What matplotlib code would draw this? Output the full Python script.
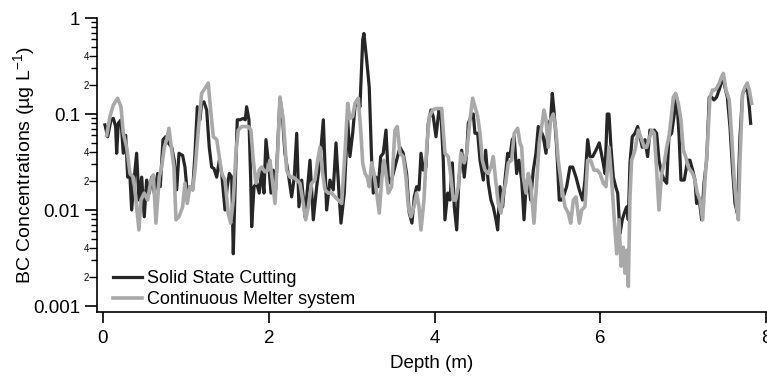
import matplotlib
matplotlib.use("Agg")
import matplotlib.pyplot as plt
from matplotlib.ticker import FixedLocator

plt.rcParams['font.family'] = ['Liberation Sans', 'DejaVu Sans']
plt.rcParams['mathtext.fontset'] = 'custom'
plt.rcParams['mathtext.rm'] = 'Liberation Sans'
plt.rcParams['mathtext.default'] = 'regular'

# ---------------- data ----------------
solid_depth = [
    0.024, 0.057, 0.097, 0.125, 0.153, 0.165, 0.185, 0.217, 0.245, 0.274,
    0.298, 0.326, 0.346, 0.378, 0.406, 0.434, 0.467, 0.498, 0.527, 0.559,
    0.587, 0.619, 0.660, 0.691, 0.724, 0.756, 0.788, 0.829, 0.860, 0.889,
    0.917, 0.961, 0.989, 1.017, 1.049, 1.082, 1.110, 1.138, 1.170, 1.190,
    1.218, 1.251, 1.282, 1.311, 1.339, 1.372, 1.403, 1.432, 1.472, 1.499,
    1.524, 1.553, 1.572, 1.592, 1.620, 1.653, 1.692, 1.717, 1.733, 1.761,
    1.782, 1.794, 1.822, 1.854, 1.885, 1.914, 1.942, 1.966, 2.002, 2.027,
    2.054, 2.083, 2.135, 2.163, 2.195, 2.235, 2.276, 2.308, 2.337, 2.364,
    2.397, 2.437, 2.469, 2.497, 2.537, 2.578, 2.618, 2.658, 2.698, 2.738,
    2.778, 2.811, 2.847, 2.871, 2.911, 2.952, 2.979, 3.012, 3.040, 3.068,
    3.100, 3.133, 3.148, 3.181, 3.212, 3.241, 3.261, 3.293, 3.321, 3.350,
    3.381, 3.414, 3.442, 3.470, 3.502, 3.534, 3.583, 3.622, 3.663, 3.695,
    3.727, 3.755, 3.784, 3.812, 3.836, 3.864, 3.896, 3.924, 3.957, 3.984,
    4.017, 4.053, 4.077, 4.105, 4.125, 4.158, 4.186, 4.214, 4.238, 4.267,
    4.294, 4.327, 4.358, 4.387, 4.407, 4.439, 4.467, 4.487, 4.520, 4.548,
    4.588, 4.616, 4.648, 4.680, 4.708, 4.741, 4.761, 4.789, 4.821, 4.849,
    4.882, 4.909, 4.937, 4.961, 4.990, 5.018, 5.051, 5.079, 5.103, 5.131,
    5.159, 5.191, 5.223, 5.251, 5.280, 5.311, 5.344, 5.372, 5.400, 5.420,
    5.440, 5.473, 5.504, 5.533, 5.553, 5.593, 5.633, 5.666, 5.706, 5.746,
    5.786, 5.814, 5.847, 5.875, 5.907, 5.947, 5.987, 6.028, 6.056, 6.083,
    6.104, 6.128, 6.156, 6.185, 6.209, 6.237, 6.264, 6.289, 6.317, 6.337,
    6.357, 6.385, 6.418, 6.450, 6.478, 6.506, 6.538, 6.570, 6.598, 6.626,
    6.650, 6.679, 6.707, 6.739, 6.771, 6.800, 6.827, 6.860, 6.892, 6.920,
    6.948, 6.972, 7.012, 7.053, 7.081, 7.113, 7.141, 7.161, 7.193, 7.222,
    7.250, 7.282, 7.313, 7.342, 7.370, 7.402, 7.443, 7.475, 7.503, 7.531,
    7.563, 7.595, 7.624, 7.652, 7.684, 7.716, 7.744, 7.772, 7.796, 7.813,
]
solid_bc = [
    0.077, 0.058, 0.087, 0.090, 0.074, 0.039, 0.080, 0.087, 0.039, 0.060,
    0.022, 0.022, 0.010, 0.022, 0.039, 0.0127, 0.022, 0.0085, 0.0205, 0.015,
    0.022, 0.015, 0.024, 0.0175, 0.054, 0.058, 0.050, 0.045, 0.033, 0.0162,
    0.039, 0.037, 0.028, 0.015, 0.0175, 0.0162, 0.039, 0.119, 0.087, 0.129,
    0.134, 0.110, 0.045, 0.028, 0.027, 0.022, 0.033, 0.024, 0.010, 0.0175,
    0.024, 0.022, 0.0035, 0.015, 0.087, 0.087, 0.090, 0.087, 0.119, 0.087,
    0.0205, 0.0067, 0.0175, 0.019, 0.015, 0.026, 0.015, 0.054, 0.028, 0.015,
    0.026, 0.0162, 0.146, 0.100, 0.039, 0.024, 0.0137, 0.022, 0.063, 0.0108,
    0.0205, 0.0085, 0.0175, 0.033, 0.0079, 0.0175, 0.033, 0.087, 0.010, 0.0205,
    0.0162, 0.050, 0.015, 0.0073, 0.015, 0.087, 0.036, 0.063, 0.119, 0.140,
    0.119, 0.59, 0.69, 0.365, 0.19, 0.033, 0.015, 0.022, 0.0175, 0.036,
    0.039, 0.068, 0.022, 0.019, 0.024, 0.031, 0.045, 0.039, 0.024, 0.0093,
    0.0073, 0.0137, 0.0175, 0.0162, 0.039, 0.026, 0.028, 0.080, 0.110, 0.094,
    0.058, 0.110, 0.100, 0.033, 0.0079, 0.015, 0.0127, 0.031, 0.0108, 0.0062,
    0.0205, 0.042, 0.022, 0.039, 0.080, 0.094, 0.100, 0.063, 0.063, 0.033,
    0.0205, 0.042, 0.019, 0.0127, 0.0108, 0.0079, 0.0062, 0.0175, 0.0108, 0.0205,
    0.039, 0.036, 0.054, 0.058, 0.024, 0.033, 0.0205, 0.0079, 0.0175, 0.0205,
    0.0127, 0.026, 0.039, 0.074, 0.068, 0.058, 0.039, 0.080, 0.087, 0.164,
    0.110, 0.045, 0.0127, 0.0127, 0.0137, 0.0175, 0.028, 0.028, 0.022, 0.0162,
    0.0127, 0.0205, 0.054, 0.036, 0.036, 0.042, 0.050, 0.033, 0.024, 0.100,
    0.100, 0.045, 0.022, 0.0175, 0.015, 0.0057, 0.0079, 0.0093, 0.0108, 0.0079,
    0.031, 0.058, 0.063, 0.074, 0.058, 0.045, 0.054, 0.036, 0.068, 0.063,
    0.068, 0.063, 0.033, 0.024, 0.0205, 0.019, 0.058, 0.063, 0.100, 0.150,
    0.063, 0.0205, 0.0205, 0.033, 0.033, 0.026, 0.0205, 0.0117, 0.0127, 0.0079,
    0.019, 0.033, 0.150, 0.150, 0.140, 0.150, 0.190, 0.245, 0.190, 0.150,
    0.074, 0.026, 0.0117, 0.0093, 0.058, 0.164, 0.178, 0.190, 0.119, 0.080,
]

melter_depth = [
    0.045, 0.084, 0.125, 0.177, 0.217, 0.245, 0.286, 0.326, 0.366, 0.394,
    0.434, 0.458, 0.498, 0.539, 0.579, 0.607, 0.639, 0.679, 0.708, 0.740,
    0.768, 0.796, 0.829, 0.856, 0.881, 0.917, 0.961, 0.989, 1.017, 1.049,
    1.082, 1.110, 1.150, 1.190, 1.230, 1.270, 1.299, 1.331, 1.372, 1.403,
    1.432, 1.472, 1.511, 1.540, 1.572, 1.604, 1.632, 1.673, 1.713, 1.753,
    1.785, 1.813, 1.846, 1.885, 1.914, 1.954, 1.987, 2.014, 2.042, 2.075,
    2.107, 2.135, 2.175, 2.216, 2.256, 2.296, 2.337, 2.376, 2.416, 2.445,
    2.477, 2.517, 2.557, 2.590, 2.618, 2.645, 2.678, 2.718, 2.759, 2.799,
    2.838, 2.879, 2.919, 2.952, 2.979, 3.012, 3.040, 3.080, 3.109, 3.133,
    3.161, 3.188, 3.212, 3.241, 3.269, 3.302, 3.333, 3.362, 3.390, 3.414,
    3.442, 3.482, 3.522, 3.550, 3.583, 3.622, 3.655, 3.683, 3.715, 3.752,
    3.784, 3.812, 3.836, 3.872, 3.905, 3.936, 3.977, 4.017, 4.045, 4.086,
    4.125, 4.165, 4.198, 4.226, 4.254, 4.286, 4.318, 4.358, 4.387, 4.427,
    4.459, 4.487, 4.520, 4.548, 4.576, 4.608, 4.648, 4.680, 4.708, 4.737,
    4.768, 4.801, 4.829, 4.857, 4.889, 4.930, 4.961, 5.002, 5.030, 5.051,
    5.070, 5.103, 5.131, 5.159, 5.199, 5.231, 5.263, 5.292, 5.320, 5.344,
    5.372, 5.400, 5.432, 5.464, 5.492, 5.533, 5.573, 5.613, 5.642, 5.674,
    5.706, 5.746, 5.775, 5.814, 5.847, 5.883, 5.923, 5.963, 5.995, 6.035,
    6.068, 6.104, 6.136, 6.168, 6.197, 6.225, 6.249, 6.277, 6.297, 6.317,
    6.337, 6.357, 6.377, 6.418, 6.458, 6.498, 6.530, 6.558, 6.586, 6.619,
    6.650, 6.679, 6.707, 6.739, 6.771, 6.800, 6.827, 6.852, 6.880, 6.908,
    6.940, 6.972, 7.000, 7.029, 7.061, 7.113, 7.141, 7.169, 7.202, 7.234,
    7.262, 7.290, 7.322, 7.354, 7.382, 7.410, 7.434, 7.463, 7.483, 7.515,
    7.555, 7.584, 7.615, 7.644, 7.664, 7.684, 7.716, 7.744, 7.772, 7.796,
    7.825,
]
melter_bc = [
    0.060, 0.094, 0.124, 0.146, 0.119, 0.063, 0.045, 0.024, 0.022, 0.0137,
    0.0062, 0.0127, 0.015, 0.0127, 0.0205, 0.0232, 0.0073, 0.022, 0.028, 0.045,
    0.054, 0.071, 0.042, 0.028, 0.0079, 0.0085, 0.0108, 0.019, 0.0117, 0.0175,
    0.0162, 0.026, 0.068, 0.164, 0.185, 0.210, 0.110, 0.058, 0.054, 0.036,
    0.024, 0.0205, 0.0093, 0.0073, 0.0127, 0.039, 0.068, 0.074, 0.074, 0.074,
    0.068, 0.033, 0.019, 0.026, 0.028, 0.025, 0.026, 0.033, 0.0205, 0.0117,
    0.039, 0.150, 0.087, 0.026, 0.022, 0.022, 0.0205, 0.019, 0.0117, 0.0079,
    0.0108, 0.019, 0.0205, 0.033, 0.045, 0.026, 0.0162, 0.015, 0.015, 0.0137,
    0.0127, 0.0117, 0.039, 0.129, 0.090, 0.094, 0.129, 0.146, 0.068, 0.031,
    0.024, 0.022, 0.0175, 0.031, 0.024, 0.015, 0.0093, 0.0205, 0.033, 0.024,
    0.015, 0.0175, 0.068, 0.074, 0.039, 0.036, 0.022, 0.0108, 0.0085, 0.0108,
    0.015, 0.0108, 0.0062, 0.0127, 0.045, 0.094, 0.110, 0.114, 0.114, 0.114,
    0.039, 0.036, 0.022, 0.0127, 0.0127, 0.0175, 0.039, 0.031, 0.039, 0.087,
    0.146, 0.119, 0.094, 0.063, 0.033, 0.026, 0.024, 0.028, 0.036, 0.0205,
    0.0117, 0.0093, 0.015, 0.019, 0.031, 0.033, 0.063, 0.071, 0.050, 0.045,
    0.022, 0.015, 0.024, 0.019, 0.0073, 0.019, 0.050, 0.074, 0.110, 0.087,
    0.045, 0.087, 0.100, 0.068, 0.033, 0.0175, 0.0108, 0.0093, 0.0073, 0.0127,
    0.0137, 0.0073, 0.010, 0.0108, 0.033, 0.033, 0.026, 0.026, 0.024, 0.019,
    0.0175, 0.045, 0.0205, 0.0079, 0.0035, 0.0079, 0.0026, 0.0041, 0.0022, 0.0038,
    0.0016, 0.0137, 0.033, 0.042, 0.068, 0.054, 0.045, 0.045, 0.054, 0.068,
    0.063, 0.026, 0.010, 0.024, 0.031, 0.045, 0.058, 0.087, 0.150, 0.164,
    0.129, 0.087, 0.042, 0.036, 0.028, 0.024, 0.0205, 0.015, 0.0127, 0.0079,
    0.0205, 0.045, 0.150, 0.178, 0.178, 0.190, 0.210, 0.245, 0.265, 0.178,
    0.140, 0.058, 0.0205, 0.0108, 0.0079, 0.033, 0.164, 0.190, 0.210, 0.178,
    0.129,
]

series_labels = ["Solid State Cutting", "Continuous Melter system"]
x_ticks = [0, 2, 4, 6, 8]
y_major = [0.001, 0.01, 0.1, 1]
y_major_labels = ["0.001", "0.01", "0.1", "1"]

# ---------------- figure ----------------
W, H = 767, 380
fig = plt.figure(figsize=(W / 100, H / 100), dpi=100)
ax = fig.add_axes([97 / W, (H - 312) / H, (767 - 97) / W, (312 - 18) / H])

ax.plot(solid_depth, solid_bc, color="#262626", lw=2.3, label=series_labels[0],
        zorder=2)
ax.plot(melter_depth, melter_bc, color="#a9a9a9", lw=2.6, label=series_labels[1],
        zorder=3)

ax.set_yscale("log")
ax.set_xlim(-0.072, 8.01)
ax.set_ylim(8.66e-4, 1.0)

for s in ("top", "right"):
    ax.spines[s].set_visible(False)
for s in ("left", "bottom"):
    ax.spines[s].set_linewidth(1.2)
    ax.spines[s].set_color("black")

ax.set_xticks(x_ticks)
ax.set_xticklabels([str(t) for t in x_ticks])
ax.tick_params(axis="x", direction="out", length=8, width=1.2, labelsize=13.5, pad=5)

ax.yaxis.set_major_locator(FixedLocator(y_major))
ax.set_yticklabels(y_major_labels)
minor_locs = [m * 10.0 ** e for e in (-3, -2, -1) for m in range(2, 10)]
minor_labels = [("%d" % m if m in (2, 4) else "") for e in (-3, -2, -1) for m in range(2, 10)]
ax.set_yticks(minor_locs, minor_labels, minor=True)
ax.tick_params(axis="y", which="major", direction="out", length=8.6, width=1.2,
               labelsize=13.5, pad=3.6)
ax.tick_params(axis="y", which="minor", direction="out", length=4, width=1.0,
               labelsize=7, pad=1.5)
for tk, lab in zip(ax.yaxis.get_minor_ticks(), minor_labels):
    if lab:
        tk.tick1line.set_markersize(6)

ax.set_xlabel("Depth (m)", fontsize=13.5)
ax.xaxis.set_label_coords(0.5, -0.146)
ax.xaxis.label.set_va("top")
ax.set_ylabel("BC Concentrations (µg L$^{-1}$)", fontsize=14)
ax.yaxis.set_label_coords(-0.0896, 0.5)

leg = ax.legend(loc="lower left", bbox_to_anchor=(0.018, 0.0), frameon=False,
                fontsize=13, handlelength=1.6, handletextpad=0.3,
                labelspacing=0.25, borderpad=0.2, borderaxespad=0.0)

fig.savefig("out.png", dpi=100)
